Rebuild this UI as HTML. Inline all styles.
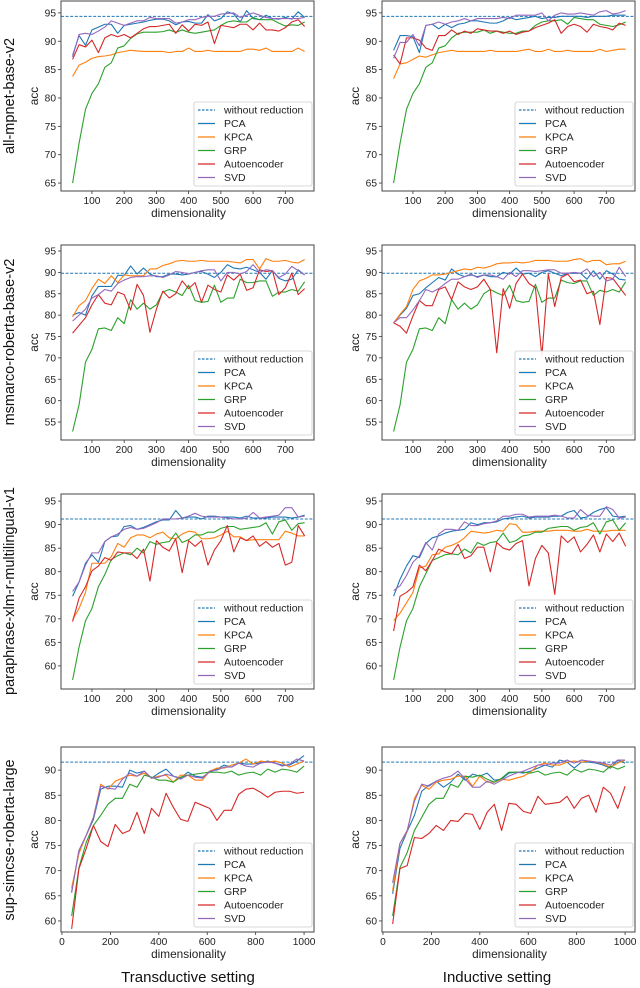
<!DOCTYPE html>
<html><head><meta charset="utf-8">
<style>
html,body{margin:0;padding:0;background:#fff;}
svg{display:block;font-family:"Liberation Sans","DejaVu Sans",sans-serif;}
</style></head>
<body>
<svg id="fig" width="640" height="988" viewBox="0 0 640 988" xmlns="http://www.w3.org/2000/svg"></svg>
<script>
const xsA = [40,60,80,100,120,140,160,180,200,220,240,260,280,300,320,340,360,380,400,420,440,460,480,500,520,540,560,580,600,620,640,660,680,700,720,740,760];
const xsB = [40,70,100,130,160,190,220,250,280,310,340,370,400,430,460,490,520,550,580,610,640,670,700,730,760,790,820,850,880,910,940,970,1000];
const seriesNames = ["PCA","KPCA","GRP","Autoencoder","SVD"];
const baselines = [94.4,89.8,91.2,91.6,94.4,89.8,91.2,91.6];
const rowLabels = ["all-mpnet-base-v2","msmarco-roberta-base-v2","paraphrase-xlm-r-multilingual-v1","sup-simcse-roberta-large"];
const yTicksRow = [[65,70,75,80,85,90,95],[55,60,65,70,75,80,85,90,95],[60,65,70,75,80,85,90,95],[60,65,70,75,80,85,90]];
const xTicksA = [100,200,300,400,500,600,700];
const xTicksB = [0,200,400,600,800,1000];

const P1_PCA=[87.5,91.0,89.3,92.0,92.5,93.0,93.0,91.4,92.8,93.0,93.2,93.4,93.7,93.9,93.9,93.6,92.9,93.4,93.5,93.2,93.2,94.7,93.6,94.0,95.2,94.8,93.4,95.4,94.0,93.8,94.6,94.0,93.9,94.2,93.9,95.2,94.2];
const P1_KPCA=[83.8,85.8,86.3,87.0,87.3,87.4,87.6,88.0,88.2,88.4,88.3,88.2,88.2,88.2,88.2,88.0,88.2,88.2,88.8,88.2,88.2,88.4,88.2,88.2,88.2,88.2,88.2,88.6,88.6,88.4,88.8,88.2,88.2,88.2,88.2,88.8,88.2];
const P1_GRP=[65.0,72,78,80.8,82.5,85.4,86.2,88.8,89.2,90.5,91.3,91.6,91.6,91.6,91.7,92.0,91.6,92.0,91.6,91.4,91.6,91.8,92.0,92.8,93.4,93.6,93.4,93.4,94.2,93.8,93.8,93.8,93.2,92.7,92.9,92.8,93.4];
const P1_AE=[86.8,89.4,89.0,90.2,88.0,90.6,91.2,90.8,91.2,90.6,91.4,92.2,92.6,92.6,92.8,93.0,91.4,92.9,91.8,93.0,92.8,93.4,89.6,92.8,92.6,92.4,93.0,93.0,92.0,93.2,92.0,92.0,91.8,92.4,93.4,93.8,92.6];
const P1_SVD=[87.2,91.2,91.4,91.2,91.8,92.5,93.6,93.2,92.8,93.2,93.6,93.6,94.2,94.0,94.0,94.0,93.2,93.4,93.8,93.8,94.2,94.4,94.4,94.8,94.9,95.0,94.2,94.6,95.0,94.6,94.2,94.0,94.0,94.0,94.0,94.0,94.2];

const P2_PCA=[80.0,80.6,80.0,84.5,86.7,86.7,86.7,89.3,89.3,91.5,89.6,91.0,89.6,89.0,89.0,89.6,89.6,89.4,89.6,90.0,90.2,89.6,88.8,90.0,91.8,91.0,90.8,91.2,90.6,90.0,88.4,90.4,88.6,88.0,88.4,90.6,89.4];
const P2_KPCA=[79.6,82.2,83.4,86.2,88.4,87.4,89.2,87.6,89.4,89.2,89.2,89.2,90.8,90.8,91.6,92.0,92.6,92.8,92.6,92.6,92.8,92.6,92.6,92.6,92.6,92.4,92.2,93.0,93.0,90.8,93.2,92.6,92.6,92.8,92.4,92.2,93.0];
const P2_GRP=[52.8,59,69,72,76.8,77.0,76.4,79.4,78.0,83.6,81.4,82.8,81.4,82.4,85.4,86.0,85.4,84.6,87.0,83.4,83.0,83.2,87.0,83.0,84.0,84.0,88.4,87.6,87.6,88.0,88.0,84.4,85.4,85.4,86.0,85.6,87.8];
const P2_AE=[75.8,77.6,79.4,82.4,84.8,82.8,82.4,85.4,84.8,81.2,87.2,84.6,76.0,81.4,85.6,84.0,85.0,88.0,86.2,87.6,83.0,87.0,86.0,85.4,89.4,88.2,89.6,85.8,86.4,90.6,90.2,90.4,84.8,86.4,89.8,84.8,86.2];
const P2_SVD=[78.6,80.0,81.4,84.0,84.8,86.0,85.6,87.4,88.2,88.8,89.0,89.0,89.2,89.2,88.8,89.4,90.2,90.0,89.6,90.0,90.4,90.6,90.6,88.0,90.0,90.0,89.6,90.2,91.8,90.0,90.6,90.4,88.8,89.6,91.4,90.4,89.4];

const P3_PCA=[74.8,77.8,81.8,83.6,82.0,86.4,87.4,87.6,89.6,89.8,89.0,89.4,90.0,90.6,91.0,91.0,93.0,91.4,91.6,91.6,91.2,91.8,91.8,91.6,91.6,91.6,91.4,91.8,91.4,91.4,91.4,91.6,91.6,91.6,91.4,91.6,92.0];
const P3_KPCA=[69.8,72.2,75.6,81.8,81.8,81.8,83.2,86.0,85.2,87.2,87.8,87.8,87.2,88.0,88.4,87.2,87.0,88.0,88.6,88.4,87.0,87.0,87.2,87.8,88.6,87.4,87.4,86.6,86.8,86.8,86.8,86.8,86.8,88.6,88.2,87.6,87.6];
const P3_GRP=[57.0,64,69.6,72.2,76.8,79.4,82.6,83.4,84.0,83.6,85.0,84.0,86.4,85.8,86.2,86.4,88.2,86.2,86.8,87.8,87.8,88.4,88.4,89.2,89.6,89.6,89.0,89.2,89.4,89.6,90.4,88.0,90.6,91.0,88.8,90.2,90.4];
const P3_AE=[69.4,74.4,76.8,80.2,81.2,83.0,82.4,84.2,84.0,84.0,82.8,84.8,78.0,86.6,85.2,84.4,87.0,79.8,86.6,85.4,86.6,81.4,84.6,86.6,89.8,84.2,87.2,86.6,87.6,85.4,86.4,85.2,86.0,81.4,82.0,89.8,87.6];
const P3_SVD=[75.8,77.8,81.4,84.0,84.0,86.4,87.4,88.0,89.0,89.4,89.0,89.2,89.8,90.4,91.2,91.2,91.2,91.4,91.8,92.4,91.8,91.6,91.6,91.6,91.4,91.2,91.2,91.4,92.6,91.4,91.6,91.8,92.0,93.6,93.6,91.6,91.8];

const P4_PCA=[65.8,74.0,77.0,80.2,86.2,86.8,86.8,86.6,90.0,89.4,89.8,88.4,89.4,90.2,88.8,88.4,89.6,88.8,88.6,89.6,90.2,91.0,90.6,91.4,91.2,91.2,91.4,91.8,91.4,91.0,91.0,91.8,92.9];
const P4_KPCA=[66.6,73.4,77.0,80.6,87.2,86.2,87.8,88.4,89.0,88.8,89.4,88.4,88.8,89.0,87.6,89.0,89.0,88.0,88.0,89.8,90.4,90.4,91.0,91.4,92.2,91.2,91.8,91.6,91.8,91.4,90.6,91.2,91.8];
const P4_GRP=[61.0,70.6,75.6,79.0,81.0,83.2,84.4,84.4,87.2,86.6,89.0,88.6,88.0,88.0,87.6,88.6,89.0,89.2,89.4,89.6,89.6,89.4,89.8,89.0,89.4,89.6,89.0,90.2,89.6,90.2,90.0,89.6,90.8];
const P4_AE=[58.4,70.4,74.4,79.0,75.8,74.8,79.2,77.4,78.0,81.6,77.4,82.4,80.8,85.4,82.6,80.2,79.8,83.6,83.0,82.4,80.0,82.0,82.0,85.2,86.2,86.4,85.6,84.6,85.6,85.8,85.8,85.4,85.6];
const P4_SVD=[65.6,74.0,77.0,80.6,86.8,86.4,86.2,88.2,89.4,88.8,89.8,88.4,88.6,89.2,88.8,88.2,89.0,88.6,88.4,89.8,90.0,90.6,90.6,91.4,90.8,90.6,91.4,91.6,91.4,90.8,91.2,92.2,91.8];

const P5_PCA=[88.4,91.0,91.0,90.8,88.0,92.8,93.0,92.2,93.0,92.4,93.0,93.2,93.6,93.6,93.4,93.2,93.2,93.6,94.2,93.8,94.0,94.2,94.4,94.0,94.2,94.2,94.4,94.4,94.4,94.4,94.2,94.4,94.4,94.4,94.6,94.6,94.6];
const P5_KPCA=[83.4,86.0,86.2,86.8,87.4,87.2,87.6,88.0,88.2,88.4,88.2,88.2,88.2,88.2,88.2,88.4,88.2,88.2,88.2,88.2,88.4,88.6,88.2,88.2,88.6,88.2,88.2,88.4,88.2,88.2,88.2,88.2,88.6,88.2,88.4,88.6,88.6];
const P5_GRP=[65.0,72,78,80.8,82.5,85.4,86.2,88.8,89.2,90.6,91.4,91.6,91.6,91.6,92.0,91.4,91.8,91.6,91.4,91.4,91.8,91.8,92.8,93.4,93.6,93.6,93.8,93.0,94.2,94.0,93.8,93.8,93.0,92.8,92.6,92.9,93.4];
const P5_AE=[87.6,86.0,90.6,90.6,90.2,88.8,88.4,91.0,91.0,92.0,91.2,91.8,91.4,92.2,92.0,91.8,91.8,91.4,91.8,91.2,91.6,91.8,92.4,92.8,93.2,93.8,91.4,92.6,93.0,92.6,91.6,93.0,92.6,92.4,92.0,93.2,92.8];
const P5_SVD=[87.0,89.8,89.8,91.2,89.2,92.8,93.0,93.4,93.0,93.4,93.6,94.0,93.6,94.0,94.0,94.0,94.0,94.2,94.0,94.6,94.6,94.6,94.6,95.0,93.6,94.6,95.0,94.8,94.8,95.0,94.8,94.6,95.2,95.4,94.8,95.0,95.4];

const P6_PCA=[78.2,80.0,81.6,84.6,85.0,86.4,87.6,88.8,88.2,90.8,89.6,89.0,89.4,89.0,89.4,89.0,89.0,90.0,89.6,91.0,89.6,89.8,89.0,90.0,90.4,89.8,89.2,89.8,89.8,89.8,88.4,90.4,88.4,90.4,89.6,88.4,88.2];
const P6_KPCA=[78.2,80.2,82.0,86.0,88.0,88.6,89.4,89.4,89.6,90.0,90.4,90.8,90.6,91.2,91.0,91.4,92.0,92.2,92.2,92.4,92.2,92.4,92.8,92.8,92.8,92.6,92.6,92.6,93.0,93.2,92.4,92.8,92.8,91.8,92.0,92.0,92.6];
const P6_GRP=[52.8,59,69,72,76.8,77.0,76.4,79.4,78.0,83.6,81.4,82.8,81.4,82.4,85.0,86.0,85.2,84.6,87.0,83.4,83.0,83.2,87.2,83.0,84.0,84.0,88.2,87.6,87.4,88.0,88.0,84.6,85.8,85.4,86.0,85.4,87.8];
const P6_AE=[78.2,77.4,75.8,79.8,83.4,82.2,82.2,86.0,86.6,83.6,87.8,86.6,86.0,86.6,88.4,86.0,71.2,86.2,81.6,87.4,89.6,87.4,86.4,70.4,89.6,82.0,88.8,89.6,87.8,88.2,85.0,85.6,77.8,88.8,88.6,86.6,84.6];
const P6_SVD=[78.2,79.4,79.4,81.2,83.4,86.0,85.4,86.2,87.4,88.4,88.4,89.0,89.6,88.8,89.4,89.4,89.0,88.4,90.0,89.0,90.4,90.4,90.2,90.4,90.6,90.6,89.8,89.8,90.0,89.8,90.8,89.0,90.0,88.0,88.4,91.2,89.0];

const P7_PCA=[74.8,78.4,81.2,83.4,83.0,86.0,87.2,87.6,88.2,88.6,88.8,89.0,90.4,90.0,90.4,90.4,90.6,91.2,91.4,91.6,91.8,91.4,91.6,91.6,91.6,91.8,91.8,92.6,93.0,91.4,91.6,92.6,93.2,93.6,91.8,91.6,91.8];
const P7_KPCA=[69.6,71.2,73.4,75.6,80.8,81.2,83.6,83.8,85.2,85.6,86.2,87.2,88.6,88.4,88.2,88.4,88.8,88.6,90.2,90.0,88.4,88.4,88.6,88.6,88.6,88.8,88.8,88.8,88.6,88.6,89.0,88.6,88.6,88.6,88.8,88.8,88.8];
const P7_GRP=[57.0,64,69.6,72.2,76.8,79.6,82.4,83.0,83.6,83.8,83.6,84.8,84.0,86.2,85.6,86.2,86.4,88.2,86.2,86.6,87.6,87.8,88.4,88.4,89.2,89.4,89.6,89.6,88.8,89.4,89.6,90.4,88.0,90.6,91.0,88.8,90.4];
const P7_AE=[67.4,74.8,75.6,76.8,81.4,80.2,82.4,84.8,84.2,83.8,85.8,82.8,83.4,85.2,85.2,80.0,86.2,85.0,84.6,86.0,86.6,77.0,82.8,85.6,84.0,75.2,87.6,86.2,87.4,84.2,85.8,87.8,84.2,88.0,86.4,88.2,85.4];
const P7_SVD=[76.0,77.0,79.2,82.0,83.4,86.2,84.6,88.0,89.0,89.0,88.8,90.6,89.8,89.8,90.2,90.4,90.8,91.8,91.8,92.2,92.2,91.6,91.8,91.8,91.8,92.0,91.8,91.4,91.4,93.2,92.0,91.8,91.8,93.8,93.2,91.4,91.6];

const P8_PCA=[65.4,74.4,77.8,81.0,85.8,87.0,87.8,86.6,87.6,89.2,88.0,89.2,88.8,89.4,88.0,88.2,89.4,89.6,89.4,89.8,90.4,91.0,90.6,92.0,91.6,90.4,91.6,91.6,91.4,91.0,90.4,92.0,91.4];
const P8_KPCA=[66.0,75.4,77.8,84.4,87.0,86.2,87.6,88.0,88.2,88.8,88.8,86.8,88.8,87.6,87.6,88.2,88.0,88.4,88.8,89.6,91.0,91.4,91.0,91.0,91.6,91.8,91.6,91.8,91.6,91.2,90.6,91.4,92.0];
const P8_GRP=[61.0,70.6,73.6,78.0,80.6,83.2,84.4,84.4,87.2,86.6,88.8,88.6,89.0,88.2,87.6,88.4,89.6,89.6,89.6,89.4,89.8,89.0,89.4,89.6,89.0,90.2,89.6,90.2,90.0,89.6,90.8,90.2,90.8];
const P8_AE=[59.4,70.4,71.0,76.6,76.4,77.4,79.0,78.0,80.0,79.8,81.4,81.2,78.2,81.6,83.2,78.0,83.4,83.2,81.8,81.4,84.8,83.2,83.4,83.6,84.8,82.4,84.4,85.0,81.6,86.6,85.4,82.4,86.8];
const P8_SVD=[67.6,75.4,78.0,83.8,87.2,86.8,87.8,88.4,88.8,89.8,88.2,86.6,86.6,87.8,87.2,88.0,88.8,89.4,89.8,90.4,91.0,91.0,91.4,91.4,92.0,91.4,92.0,91.8,91.6,91.4,91.0,92.0,92.0];

const panelData = [
 [P1_PCA,P1_KPCA,P1_GRP,P1_AE,P1_SVD],[P2_PCA,P2_KPCA,P2_GRP,P2_AE,P2_SVD],
 [P3_PCA,P3_KPCA,P3_GRP,P3_AE,P3_SVD],[P4_PCA,P4_KPCA,P4_GRP,P4_AE,P4_SVD],
 [P5_PCA,P5_KPCA,P5_GRP,P5_AE,P5_SVD],[P6_PCA,P6_KPCA,P6_GRP,P6_AE,P6_SVD],
 [P7_PCA,P7_KPCA,P7_GRP,P7_AE,P7_SVD],[P8_PCA,P8_KPCA,P8_GRP,P8_AE,P8_SVD]];

const colors = ["#1f77b4","#ff7f0e","#2ca02c","#d62728","#9467bd"];
const NS = "http://www.w3.org/2000/svg";
const fig = document.getElementById('fig');
function mk(tag, attrs, parent){const e=document.createElementNS(NS,tag);for(const k in attrs)e.setAttribute(k,attrs[k]);(parent||fig).appendChild(e);return e;}

const rowBox = [{t:1,b:191,lo:63.6,hi:97.1},{t:245,b:440,lo:50.8,hi:96.4},{t:494,b:689,lo:55.1,hi:96.5},{t:747,b:932,lo:57.8,hi:94.6}];
const colBox = [{l:61,r:314},{l:382,r:635}];

for(let c=0;c<2;c++){
 for(let r=0;r<4;r++){
  const idx=c*4+r;
  const rb=rowBox[r], cb=colBox[c];
  const isB = r===3;
  const xs = isB?xsB:xsA;
  const xmin = isB?-4:4, xmax = isB?1041:789;
  const g = mk('g',{});
  
  
  const X = v => cb.l + (v-xmin)/(xmax-xmin)*(cb.r-cb.l);
  const Y = v => rb.b - (v-rb.lo)/(rb.hi-rb.lo)*(rb.b-rb.t);
  const clipId='clip'+idx;
  const cp=mk('clipPath',{id:clipId},g); mk('rect',{x:cb.l,y:rb.t,width:cb.r-cb.l,height:rb.b-rb.t},cp);
  for(const t of yTicksRow[r]){
   const y=Y(t);
   const tk=mk('line',{x1:cb.l-3,x2:cb.l,y1:y,y2:y,stroke:'#333','stroke-width':0.8},g);
   
   
   const tx=mk('text',{x:cb.l-5,y:y+3.5,'font-size':10.2,'text-anchor':'end',fill:'#222'},g);
   tx.textContent=t;
   
   
  }
  const xt = isB?xTicksB:xTicksA;
  for(const t of xt){
   const x=X(t);
   const tk=mk('line',{x1:x,x2:x,y1:rb.b,y2:rb.b+3,stroke:'#333','stroke-width':0.8},g);
   
   
   const tx=mk('text',{x:x,y:rb.b+13,'font-size':10.2,'text-anchor':'middle',fill:'#222'},g);
   tx.textContent=t;
   
   
  }
  const xl=mk('text',{x:(cb.l+cb.r)/2+1,y:rb.b+26,'font-size':11.8,'text-anchor':'middle',fill:'#222'},g);
  xl.textContent='dimensionality';
  
  
  const ymid=(rb.t+rb.b)/2;
  const yl=mk('text',{x:cb.l-23,y:ymid,'font-size':11.8,'text-anchor':'middle',fill:'#222',transform:`rotate(-90 ${cb.l-23} ${ymid})`},g);
  yl.textContent='acc';
  
  
  const pg=mk('g',{'clip-path':`url(#${clipId})`},g);
  const bl=mk('line',{x1:cb.l,x2:cb.r,y1:Y(baselines[idx]),y2:Y(baselines[idx]),stroke:'#1f77b4','stroke-width':1,'stroke-dasharray':'3,1.6'},pg);
  
  
  panelData[idx].forEach((vals,s)=>{
   const d=vals.map((v,i)=>(i?'L':'M')+X(xs[i]).toFixed(2)+','+Y(v).toFixed(2)).join('');
   const p=mk('path',{d:d,fill:'none',stroke:colors[s],'stroke-width':1.1,'stroke-linejoin':'round'},pg);
   
   
  });
  const fr=mk('rect',{x:cb.l,y:rb.t,width:cb.r-cb.l,height:rb.b-rb.t,fill:'none',stroke:'#444','stroke-width':1},g);
  
  
  const lw=118, lh=84;
  const lx=cb.r-2-lw, ly=rb.b-5-lh;
  const lg=mk('g',{},g);
  
  
  mk('rect',{x:lx,y:ly,width:lw,height:lh,rx:2,fill:'#fff','fill-opacity':0.9,stroke:'#ccc','stroke-width':0.8},lg);
  const labels=['without reduction'].concat(seriesNames);
  labels.forEach((lab,i)=>{
   const yy=ly+8+i*13.5;
   const ent=mk('g',{},lg);
   
   
   const col=i===0?'#1f77b4':colors[i-1];
   const la={x1:lx+4,x2:lx+21,y1:yy,y2:yy,stroke:col,'stroke-width':1.3};
   if(i===0) la['stroke-dasharray']='2.5,1.5';
   mk('line',la,ent);
   const t=mk('text',{x:lx+30,y:yy+3.6,'font-size':10.5,fill:'#222'},ent);
   t.textContent=lab;
  });
 }
}
const rowMid=[96,342,591,840];
rowLabels.forEach((lab,r)=>{
 const t=mk('text',{x:14,y:rowMid[r],'font-size':14.5,'text-anchor':'middle',fill:'#111',transform:`rotate(-90 14 ${rowMid[r]})`});
 t.textContent=lab;
 
 
});
const t1=mk('text',{x:188,y:982,'font-size':15,'text-anchor':'middle',fill:'#111'});
t1.textContent='Transductive setting';


const t2=mk('text',{x:497,y:982,'font-size':15,'text-anchor':'middle',fill:'#111'});
t2.textContent='Inductive setting';


</script>
</body></html>
